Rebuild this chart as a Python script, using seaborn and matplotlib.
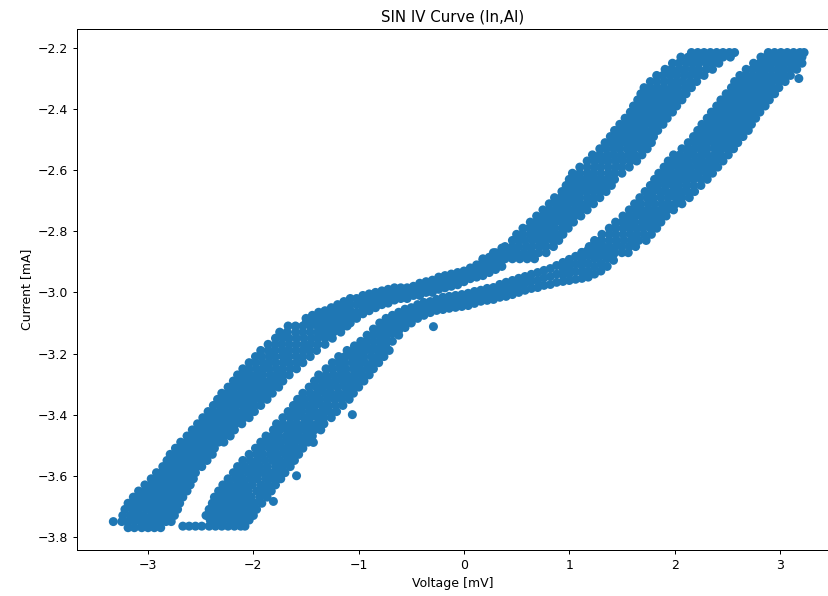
import matplotlib
matplotlib.use("Agg")
import matplotlib.pyplot as plt
import pandas as pd
import seaborn as sns

# ---------------------------------------------------------------------------
# Measured samples of the SIN junction (In/Al), two sweep branches.
# Steep parts are listed as rows (one current level, several voltages);
# the flat middle parts are listed as columns (one voltage, several currents).
# ---------------------------------------------------------------------------

# Branch A (forward sweep) -- lower steep part
a_low_current = [-3.770, -3.750, -3.730, -3.710, -3.690, -3.670, -3.650, -3.630,
                 -3.610, -3.590, -3.570, -3.550, -3.530, -3.510, -3.490, -3.470,
                 -3.450, -3.430, -3.410, -3.390, -3.370, -3.350, -3.330, -3.310,
                 -3.290, -3.270, -3.250, -3.230, -3.210, -3.190, -3.170, -3.150,
                 -3.130, -3.110]
a_low_voltage = [
    [-3.19, -3.13, -3.06, -3.00, -2.94, -2.88],
    [-3.33, -3.25, -3.19, -3.13, -3.07, -3.01, -2.95, -2.89, -2.83, -2.78],
    [-3.24, -3.17, -3.10, -3.04, -2.97, -2.91, -2.85, -2.79, -2.75],
    [-3.22, -3.15, -3.09, -3.02, -2.96, -2.90, -2.84, -2.78, -2.72],
    [-3.19, -3.12, -3.06, -3.00, -2.94, -2.88, -2.82, -2.76, -2.70],
    [-3.14, -3.08, -3.02, -2.96, -2.90, -2.84, -2.78, -2.72, -2.67],
    [-3.09, -3.03, -2.97, -2.91, -2.86, -2.80, -2.74, -2.69, -2.63],
    [-3.03, -2.97, -2.92, -2.86, -2.81, -2.75, -2.70, -2.65, -2.60],
    [-2.97, -2.91, -2.86, -2.80, -2.75, -2.69, -2.63, -2.57],
    [-2.92, -2.87, -2.81, -2.76, -2.70, -2.65, -2.60, -2.55],
    [-2.86, -2.80, -2.75, -2.70, -2.64, -2.59, -2.54, -2.49],
    [-2.82, -2.76, -2.71, -2.65, -2.60, -2.55, -2.49, -2.44],
    [-2.79, -2.74, -2.68, -2.62, -2.56, -2.51, -2.45, -2.39],
    [-2.74, -2.69, -2.63, -2.58, -2.52, -2.47, -2.42, -2.37],
    [-2.69, -2.63, -2.57, -2.51, -2.45, -2.39, -2.33, -2.28],
    [-2.63, -2.57, -2.51, -2.45, -2.39, -2.33, -2.28, -2.22],
    [-2.58, -2.52, -2.46, -2.40, -2.35, -2.29, -2.23, -2.18],
    [-2.53, -2.47, -2.41, -2.35, -2.29, -2.23, -2.17, -2.11],
    [-2.48, -2.42, -2.37, -2.31, -2.26, -2.20, -2.15, -2.09, -2.04],
    [-2.43, -2.38, -2.32, -2.27, -2.21, -2.16, -2.10, -2.05, -1.99],
    [-2.38, -2.32, -2.27, -2.21, -2.16, -2.10, -2.04, -1.99, -1.93],
    [-2.34, -2.28, -2.22, -2.16, -2.11, -2.05, -1.99, -1.93, -1.87],
    [-2.30, -2.24, -2.18, -2.12, -2.06, -2.00, -1.94, -1.88, -1.82],
    [-2.24, -2.18, -2.12, -2.06, -2.00, -1.94, -1.88, -1.82, -1.76],
    [-2.19, -2.13, -2.07, -2.01, -1.96, -1.90, -1.84, -1.78, -1.72],
    [-2.15, -2.09, -2.03, -1.97, -1.91, -1.84, -1.78, -1.72, -1.66],
    [-2.10, -2.04, -1.97, -1.91, -1.85, -1.78, -1.72, -1.65, -1.59],
    [-2.04, -1.98, -1.91, -1.85, -1.79, -1.72, -1.66, -1.59, -1.53],
    [-1.98, -1.92, -1.85, -1.79, -1.72, -1.66, -1.59, -1.53, -1.46],
    [-1.93, -1.86, -1.80, -1.73, -1.67, -1.60, -1.53, -1.47, -1.40],
    [-1.86, -1.79, -1.73, -1.66, -1.59, -1.52, -1.46, -1.39, -1.32],
    [-1.79, -1.72, -1.66, -1.59, -1.52, -1.45, -1.39, -1.32, -1.25],
    [-1.75, -1.68, -1.60, -1.53, -1.46, -1.39, -1.31, -1.24, -1.17],
    [-1.67, -1.60, -1.53, -1.46, -1.39, -1.32, -1.25, -1.18, -1.11],
]

# Branch A -- flat middle part
a_mid_voltage = [-1.50, -1.44, -1.38, -1.32, -1.26, -1.20, -1.14, -1.08, -1.02,
                 -0.96, -0.90, -0.84, -0.78, -0.72, -0.66, -0.60, -0.54, -0.48,
                 -0.42, -0.36, -0.30, -0.24, -0.18, -0.12, -0.06, 0.00, 0.06,
                 0.12, 0.18, 0.24, 0.30, 0.36]
a_mid_current = [
    [-3.085, -3.100],
    [-3.075, -3.095],
    [-3.065, -3.085, -3.105],
    [-3.060, -3.080, -3.100, -3.120, -3.140],
    [-3.050, -3.070, -3.090, -3.110, -3.130],
    [-3.040, -3.060, -3.080, -3.100, -3.120],
    [-3.030, -3.050, -3.070, -3.090, -3.110],
    [-3.020, -3.040, -3.060, -3.080, -3.100],
    [-3.020, -3.040, -3.065, -3.085],
    [-3.010, -3.030, -3.050, -3.070],
    [-3.005, -3.025, -3.045, -3.060],
    [-3.000, -3.020, -3.035, -3.050],
    [-2.995, -3.010, -3.025, -3.040],
    [-2.990, -3.005, -3.020, -3.035],
    [-2.985, -3.005, -3.025],
    [-2.985, -3.005, -3.020],
    [-2.985, -3.000, -3.020],
    [-2.980, -2.995, -3.010],
    [-2.970, -2.990, -3.010],
    [-2.965, -2.985, -3.000],
    [-2.960, -2.980, -3.000],
    [-2.950, -2.970, -2.990],
    [-2.945, -2.965, -2.985],
    [-2.940, -2.960, -2.980],
    [-2.935, -2.955, -2.975],
    [-2.930, -2.950, -2.965],
    [-2.920, -2.940, -2.955],
    [-2.910, -2.930, -2.950],
    [-2.895, -2.915, -2.930, -2.945],
    [-2.885, -2.905, -2.920, -2.935],
    [-2.870, -2.890, -2.910, -2.925],
    [-2.855, -2.875, -2.895, -2.915],
]

# Branch A -- upper steep part
a_high_current = [-2.890, -2.870, -2.850, -2.830, -2.810, -2.790, -2.770, -2.750,
                  -2.730, -2.710, -2.690, -2.670, -2.650, -2.630, -2.610, -2.590,
                  -2.570, -2.550, -2.530, -2.510, -2.490, -2.470, -2.450, -2.430,
                  -2.410, -2.390, -2.370, -2.350, -2.330, -2.310, -2.290, -2.270,
                  -2.250, -2.230, -2.215]
a_high_voltage = [
    [0.18, 0.25, 0.32, 0.39, 0.46, 0.53, 0.60, 0.67],
    [0.28, 0.35, 0.43, 0.50, 0.57, 0.64, 0.71, 0.78],
    [0.39, 0.46, 0.52, 0.59, 0.65, 0.72, 0.78, 0.85],
    [0.46, 0.52, 0.58, 0.65, 0.71, 0.77, 0.84, 0.90],
    [0.50, 0.56, 0.63, 0.69, 0.75, 0.81, 0.88, 0.94],
    [0.56, 0.62, 0.68, 0.74, 0.80, 0.86, 0.93, 0.99],
    [0.63, 0.69, 0.75, 0.81, 0.87, 0.93, 0.99, 1.04],
    [0.69, 0.75, 0.81, 0.87, 0.93, 0.99, 1.05, 1.11],
    [0.75, 0.81, 0.87, 0.93, 0.99, 1.05, 1.11, 1.17],
    [0.81, 0.87, 0.93, 0.99, 1.05, 1.11, 1.17, 1.23],
    [0.86, 0.92, 0.98, 1.04, 1.10, 1.17, 1.23, 1.29],
    [0.93, 0.99, 1.05, 1.11, 1.17, 1.23, 1.29, 1.35],
    [0.97, 1.03, 1.09, 1.15, 1.22, 1.28, 1.34, 1.40],
    [1.00, 1.06, 1.12, 1.18, 1.25, 1.31, 1.37, 1.43],
    [1.03, 1.10, 1.17, 1.23, 1.30, 1.37, 1.43, 1.50],
    [1.10, 1.17, 1.24, 1.30, 1.37, 1.44, 1.50, 1.57],
    [1.17, 1.24, 1.31, 1.37, 1.44, 1.51, 1.58, 1.64],
    [1.22, 1.29, 1.36, 1.42, 1.49, 1.56, 1.62, 1.69],
    [1.29, 1.35, 1.42, 1.48, 1.55, 1.61, 1.68, 1.74],
    [1.34, 1.40, 1.47, 1.53, 1.59, 1.65, 1.72, 1.78],
    [1.39, 1.45, 1.51, 1.57, 1.63, 1.69, 1.75, 1.80],
    [1.43, 1.49, 1.55, 1.61, 1.67, 1.72, 1.78, 1.84],
    [1.48, 1.54, 1.60, 1.66, 1.72, 1.78, 1.83, 1.89],
    [1.53, 1.59, 1.65, 1.71, 1.76, 1.82, 1.88, 1.93],
    [1.58, 1.64, 1.70, 1.75, 1.81, 1.87, 1.93, 1.98],
    [1.61, 1.67, 1.73, 1.79, 1.85, 1.90, 1.96, 2.02],
    [1.65, 1.71, 1.77, 1.83, 1.89, 1.95, 2.01, 2.07],
    [1.68, 1.74, 1.80, 1.86, 1.93, 1.99, 2.05, 2.11],
    [1.71, 1.77, 1.84, 1.90, 1.97, 2.03, 2.10, 2.16],
    [1.77, 1.83, 1.90, 1.96, 2.02, 2.08, 2.15, 2.21],
    [1.83, 1.89, 1.96, 2.02, 2.09, 2.15, 2.22, 2.28],
    [1.91, 1.97, 2.04, 2.10, 2.17, 2.23, 2.30, 2.36],
    [1.98, 2.04, 2.11, 2.17, 2.23, 2.30, 2.36, 2.42],
    [2.06, 2.13, 2.20, 2.26, 2.33, 2.40, 2.46, 2.53],
    [2.16, 2.22, 2.28, 2.34, 2.40, 2.46, 2.52, 2.57],
]

# Branch B (return sweep) -- lower steep part
b_low_current = [-3.765, -3.745, -3.730, -3.710, -3.690, -3.670, -3.650, -3.630,
                 -3.610, -3.590, -3.570, -3.550, -3.530, -3.510, -3.490, -3.470,
                 -3.450, -3.430, -3.410, -3.390, -3.370, -3.350, -3.330, -3.310,
                 -3.290, -3.270, -3.250, -3.230, -3.210, -3.190]
b_low_voltage = [
    [-2.67, -2.61, -2.55, -2.49, -2.42, -2.36, -2.30, -2.24, -2.18, -2.12, -2.08],
    [-2.41, -2.35, -2.29, -2.22, -2.16, -2.10, -2.04],
    [-2.45, -2.39, -2.32, -2.26, -2.19, -2.13, -2.06, -2.00],
    [-2.42, -2.36, -2.29, -2.23, -2.16, -2.10, -2.03, -1.97],
    [-2.39, -2.32, -2.26, -2.19, -2.12, -2.06, -1.99, -1.92],
    [-2.37, -2.30, -2.23, -2.16, -2.09, -2.02, -1.94, -1.87],
    [-2.33, -2.26, -2.19, -2.12, -2.05, -1.97, -1.90, -1.83],
    [-2.29, -2.22, -2.15, -2.08, -2.01, -1.93, -1.86, -1.79],
    [-2.24, -2.17, -2.10, -2.03, -1.96, -1.88, -1.81, -1.74],
    [-2.19, -2.12, -2.05, -1.98, -1.91, -1.84, -1.77, -1.70],
    [-2.15, -2.08, -2.01, -1.94, -1.87, -1.79, -1.72, -1.65],
    [-2.10, -2.03, -1.96, -1.89, -1.82, -1.75, -1.68, -1.61],
    [-2.04, -1.97, -1.91, -1.84, -1.77, -1.70, -1.64, -1.57],
    [-1.98, -1.92, -1.85, -1.79, -1.72, -1.66, -1.59, -1.53],
    [-1.93, -1.87, -1.80, -1.74, -1.67, -1.61, -1.54, -1.48],
    [-1.88, -1.82, -1.76, -1.69, -1.63, -1.57, -1.50, -1.44],
    [-1.81, -1.75, -1.68, -1.62, -1.55, -1.49, -1.42, -1.36],
    [-1.78, -1.72, -1.65, -1.59, -1.52, -1.46, -1.39, -1.33],
    [-1.72, -1.65, -1.59, -1.52, -1.46, -1.39, -1.33, -1.26],
    [-1.67, -1.60, -1.54, -1.47, -1.41, -1.34, -1.28, -1.21],
    [-1.62, -1.55, -1.49, -1.42, -1.35, -1.29, -1.22, -1.15],
    [-1.58, -1.51, -1.44, -1.37, -1.30, -1.23, -1.16, -1.09],
    [-1.53, -1.46, -1.39, -1.32, -1.26, -1.19, -1.12, -1.05],
    [-1.47, -1.40, -1.34, -1.27, -1.20, -1.13, -1.07, -1.00],
    [-1.42, -1.35, -1.29, -1.22, -1.15, -1.08, -1.02, -0.95],
    [-1.38, -1.31, -1.24, -1.17, -1.11, -1.04, -0.97, -0.90],
    [-1.31, -1.25, -1.18, -1.12, -1.05, -0.99, -0.92, -0.86],
    [-1.25, -1.19, -1.13, -1.06, -1.00, -0.94, -0.87, -0.81],
    [-1.19, -1.13, -1.07, -1.01, -0.95, -0.88, -0.82, -0.76],
    [-1.11, -1.05, -0.99, -0.94, -0.88, -0.82, -0.77, -0.71],
]

# Branch B -- flat middle part
b_mid_voltage = [-1.04, -0.98, -0.92, -0.86, -0.80, -0.74, -0.68, -0.62, -0.56,
                 -0.50, -0.44, -0.38, -0.32, -0.26, -0.20, -0.14, -0.08, -0.02,
                 0.04, 0.10, 0.16, 0.22, 0.28, 0.34, 0.40, 0.46, 0.52, 0.58,
                 0.64, 0.70, 0.76, 0.82, 0.88, 0.94, 1.00, 1.06, 1.12, 1.18,
                 1.24, 1.30, 1.36, 1.42]
b_mid_current = [
    [-3.175],
    [-3.160, -3.180],
    [-3.140, -3.160, -3.180],
    [-3.120, -3.140, -3.160, -3.180],
    [-3.100, -3.120, -3.140, -3.160, -3.180, -3.210],
    [-3.085, -3.105, -3.125, -3.145, -3.165, -3.180],
    [-3.075, -3.095, -3.115, -3.135, -3.160],
    [-3.065, -3.085, -3.105, -3.125, -3.140],
    [-3.055, -3.075, -3.095, -3.115],
    [-3.050, -3.068, -3.085, -3.100],
    [-3.040, -3.055, -3.070, -3.085],
    [-3.033, -3.053, -3.075],
    [-3.030, -3.048, -3.066],
    [-3.023, -3.041, -3.059],
    [-3.016, -3.036, -3.056],
    [-3.013, -3.033, -3.052],
    [-3.010, -3.030, -3.049],
    [-3.007, -3.027, -3.046],
    [-3.003, -3.023, -3.043],
    [-2.997, -3.017, -3.036],
    [-2.993, -3.011, -3.029],
    [-2.987, -3.006, -3.026],
    [-2.984, -3.003, -3.023],
    [-2.974, -2.995, -3.016],
    [-2.967, -2.990, -3.013],
    [-2.961, -2.984, -3.007],
    [-2.954, -2.977, -3.000],
    [-2.948, -2.970, -2.993],
    [-2.941, -2.964, -2.987],
    [-2.935, -2.960, -2.984],
    [-2.928, -2.952, -2.977],
    [-2.922, -2.948, -2.974],
    [-2.912, -2.940, -2.967],
    [-2.902, -2.922, -2.943, -2.964],
    [-2.892, -2.915, -2.938, -2.961],
    [-2.882, -2.907, -2.932, -2.957],
    [-2.869, -2.890, -2.912, -2.933, -2.954],
    [-2.860, -2.880, -2.905, -2.930, -2.950],
    [-2.840, -2.865, -2.890, -2.915, -2.940],
    [-2.830, -2.855, -2.880, -2.905, -2.930],
    [-2.860, -2.890, -2.915],
    [-2.875, -2.895],
]

# Branch B -- upper steep part
b_high_current = [-2.870, -2.850, -2.830, -2.810, -2.790, -2.770, -2.750, -2.730,
                  -2.710, -2.690, -2.670, -2.650, -2.630, -2.610, -2.590, -2.570,
                  -2.550, -2.530, -2.510, -2.490, -2.470, -2.450, -2.430, -2.410,
                  -2.390, -2.370, -2.350, -2.330, -2.310, -2.290, -2.270, -2.250,
                  -2.230, -2.215]
b_high_voltage = [
    [1.12, 1.18, 1.24, 1.31, 1.37, 1.43, 1.50, 1.56],
    [1.19, 1.25, 1.32, 1.38, 1.44, 1.50, 1.57, 1.63],
    [1.24, 1.31, 1.38, 1.45, 1.52, 1.59, 1.66, 1.73],
    [1.31, 1.38, 1.44, 1.51, 1.58, 1.64, 1.71, 1.78],
    [1.38, 1.44, 1.51, 1.57, 1.64, 1.70, 1.77, 1.83],
    [1.44, 1.50, 1.56, 1.62, 1.69, 1.75, 1.81, 1.87],
    [1.51, 1.57, 1.63, 1.69, 1.74, 1.80, 1.86, 1.92],
    [1.57, 1.63, 1.69, 1.75, 1.81, 1.87, 1.93, 1.99],
    [1.62, 1.68, 1.75, 1.81, 1.88, 1.94, 2.01, 2.07],
    [1.67, 1.74, 1.80, 1.87, 1.94, 2.01, 2.07, 2.14],
    [1.72, 1.79, 1.86, 1.92, 1.99, 2.06, 2.12, 2.19],
    [1.77, 1.84, 1.91, 1.98, 2.04, 2.11, 2.18, 2.25],
    [1.81, 1.87, 1.93, 2.00, 2.06, 2.12, 2.18, 2.25, 2.31],
    [1.85, 1.91, 1.98, 2.04, 2.10, 2.17, 2.23, 2.30, 2.36],
    [1.90, 1.96, 2.03, 2.09, 2.15, 2.22, 2.28, 2.35, 2.41],
    [1.94, 2.00, 2.07, 2.13, 2.20, 2.26, 2.33, 2.39, 2.46],
    [1.99, 2.05, 2.12, 2.18, 2.25, 2.31, 2.38, 2.44, 2.51],
    [2.07, 2.13, 2.19, 2.25, 2.31, 2.38, 2.44, 2.50, 2.56],
    [2.13, 2.19, 2.25, 2.31, 2.37, 2.42, 2.48, 2.54, 2.60],
    [2.18, 2.24, 2.30, 2.36, 2.42, 2.47, 2.53, 2.59, 2.65],
    [2.22, 2.28, 2.34, 2.40, 2.46, 2.52, 2.58, 2.64, 2.70],
    [2.26, 2.32, 2.38, 2.44, 2.50, 2.55, 2.61, 2.67, 2.73],
    [2.31, 2.37, 2.43, 2.48, 2.54, 2.60, 2.66, 2.71, 2.77],
    [2.35, 2.41, 2.47, 2.52, 2.58, 2.64, 2.70, 2.75, 2.81],
    [2.40, 2.46, 2.52, 2.57, 2.63, 2.69, 2.75, 2.80, 2.86],
    [2.44, 2.50, 2.56, 2.61, 2.67, 2.73, 2.79, 2.84, 2.90],
    [2.49, 2.55, 2.61, 2.66, 2.72, 2.78, 2.84, 2.89, 2.95],
    [2.54, 2.60, 2.65, 2.71, 2.77, 2.82, 2.88, 2.93, 2.99],
    [2.57, 2.63, 2.69, 2.75, 2.81, 2.87, 2.93, 2.99, 3.05],
    [2.62, 2.68, 2.74, 2.80, 2.86, 2.92, 2.98, 3.04, 3.10],
    [2.68, 2.74, 2.80, 2.86, 2.92, 2.98, 3.04, 3.10, 3.16],
    [2.75, 2.81, 2.87, 2.92, 2.98, 3.04, 3.10, 3.15, 3.21],
    [2.82, 2.87, 2.92, 2.97, 3.02, 3.07, 3.12, 3.17, 3.21],
    [2.89, 2.95, 3.01, 3.07, 3.13, 3.19, 3.23],
]

# Isolated samples lying off the two bands
stray_voltage = [-1.81, -1.43, -1.06, -1.59, -0.29, 3.18]
stray_current = [-3.684, -3.491, -3.400, -3.600, -3.112, -2.300]


def rows_to_records(levels, values):
    """Rows: one current level with several voltage samples."""
    return [(v, i) for i, vs in zip(levels, values) for v in vs]


def cols_to_records(levels, values):
    """Columns: one voltage level with several current samples."""
    return [(v, i) for v, cs in zip(levels, values) for i in cs]


records = (
    rows_to_records(a_low_current, a_low_voltage)
    + cols_to_records(a_mid_voltage, a_mid_current)
    + rows_to_records(a_high_current, a_high_voltage)
    + rows_to_records(b_low_current, b_low_voltage)
    + cols_to_records(b_mid_voltage, b_mid_current)
    + rows_to_records(b_high_current, b_high_voltage)
    + list(zip(stray_voltage, stray_current))
)
iv = pd.DataFrame(records, columns=["Voltage", "Current"])

# ---------------------------------------------------------------------------
# Figure
# ---------------------------------------------------------------------------
W, H, DPI = 829, 596, 90
fig = plt.figure(figsize=(W / DPI, H / DPI), dpi=DPI)
ax = fig.add_axes([77 / W, (H - 550) / H, (828 - 77) / W, (550 - 29) / H])

sns.scatterplot(data=iv, x="Voltage", y="Current", ax=ax,
                s=52, color="#1f77b4", edgecolor="none", linewidth=0)

ax.set_xlim(-3.675, 3.457)
ax.set_ylim(-3.843, -2.138)
ax.set_xticks([-3, -2, -1, 0, 1, 2, 3])
ax.set_yticks([-3.8, -3.6, -3.4, -3.2, -3.0, -2.8, -2.6, -2.4, -2.2])
ax.tick_params(labelsize=10)

ax.set_title("SIN IV Curve (In,Al)", fontsize=12)
ax.set_xlabel("Voltage [mV]", fontsize=10)
ax.set_ylabel("Current [mA]", fontsize=10)

fig.savefig("out.png", dpi=DPI, facecolor="white")
